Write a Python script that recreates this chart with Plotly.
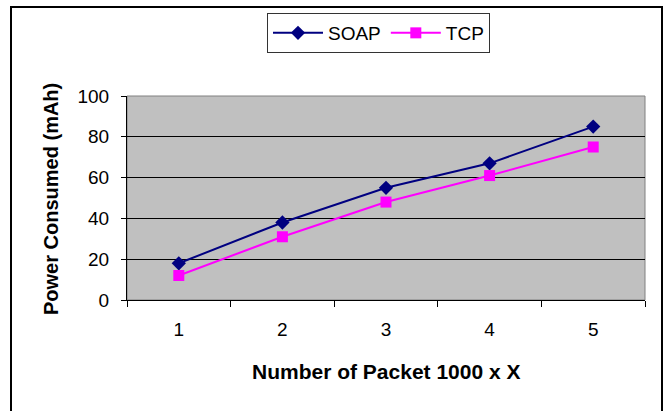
import plotly.graph_objects as go

# Packets sent (in thousands) and measured power draw
packets = ["1", "2", "3", "4", "5"]
soap_power = [18, 38, 55, 67, 85]
tcp_power = [12, 31, 48, 61, 75]
y_ticks = [0, 20, 40, 60, 80, 100]

W, H = 664, 411
ML, MR, MT, MB = 127, 19, 96, 111
PW = W - ML - MR
PH = H - MT - MB


def px_x(px):
    return (px - ML) / PW


def px_y(py):
    return (H - MB - py) / PH


FONT = "Liberation Sans, Arial, sans-serif"

fig = go.Figure()
fig.add_trace(go.Scatter(
    x=packets, y=soap_power, name="SOAP", mode="lines+markers",
    line=dict(color="#000080", width=2),
    marker=dict(symbol="diamond", size=11, color="#000080"),
))
fig.add_trace(go.Scatter(
    x=packets, y=tcp_power, name="TCP", mode="lines+markers",
    line=dict(color="#FF00FF", width=2),
    marker=dict(symbol="square", size=11, color="#FF00FF"),
))

fig.update_layout(
    width=W, height=H,
    margin=dict(l=ML, r=MR, t=MT, b=MB),
    paper_bgcolor="white",
    plot_bgcolor="#C0C0C0",
    font=dict(family=FONT, size=19, color="black"),
    showlegend=True,
    legend=dict(
        orientation="h", x=px_x(267), y=px_y(13), xanchor="left", yanchor="top",
        bgcolor="white", bordercolor="#333333", borderwidth=1,
        font=dict(family=FONT, size=19), itemwidth=50,
    ),
    xaxis=dict(
        type="category", range=[-0.5, len(packets) - 0.5],
        tickson="boundaries", ticks="outside", ticklen=6,
        tickcolor="black", showline=True, linecolor="black", linewidth=1,
        showgrid=False, ticklabelstandoff=12,
        tickfont=dict(family=FONT, size=19),
    ),
    yaxis=dict(
        range=[0, 100], tickvals=y_ticks, ticks="outside", ticklen=5,
        tickcolor="black", showline=True, linecolor="black", linewidth=1,
        showgrid=True, gridcolor="black", gridwidth=1, zeroline=False,
        ticklabelstandoff=8, tickfont=dict(family=FONT, size=19),
    ),
    shapes=[
        # plot-area frame
        dict(type="rect", xref="paper", yref="paper", x0=0, y0=0, x1=1, y1=1,
             line=dict(color="#808080", width=1), layer="below"),
        # chart-area border
        dict(type="rect", xref="paper", yref="paper",
             x0=px_x(11), y0=px_y(430), x1=px_x(662), y1=px_y(7),
             line=dict(color="black", width=2)),
    ],
    annotations=[
        dict(text="<b>Number of Packet 1000 x X</b>", xref="paper", yref="paper",
             x=px_x(386), y=px_y(371), showarrow=False, xanchor="center",
             yanchor="middle", font=dict(family=FONT, size=21)),
        dict(text="<b>Power Consumed (mAh)</b>", xref="paper", yref="paper",
             x=px_x(51), y=px_y(199), showarrow=False, textangle=-90,
             xanchor="center", yanchor="middle", font=dict(family=FONT, size=20)),
    ],
)

fig.write_html("out.html")
